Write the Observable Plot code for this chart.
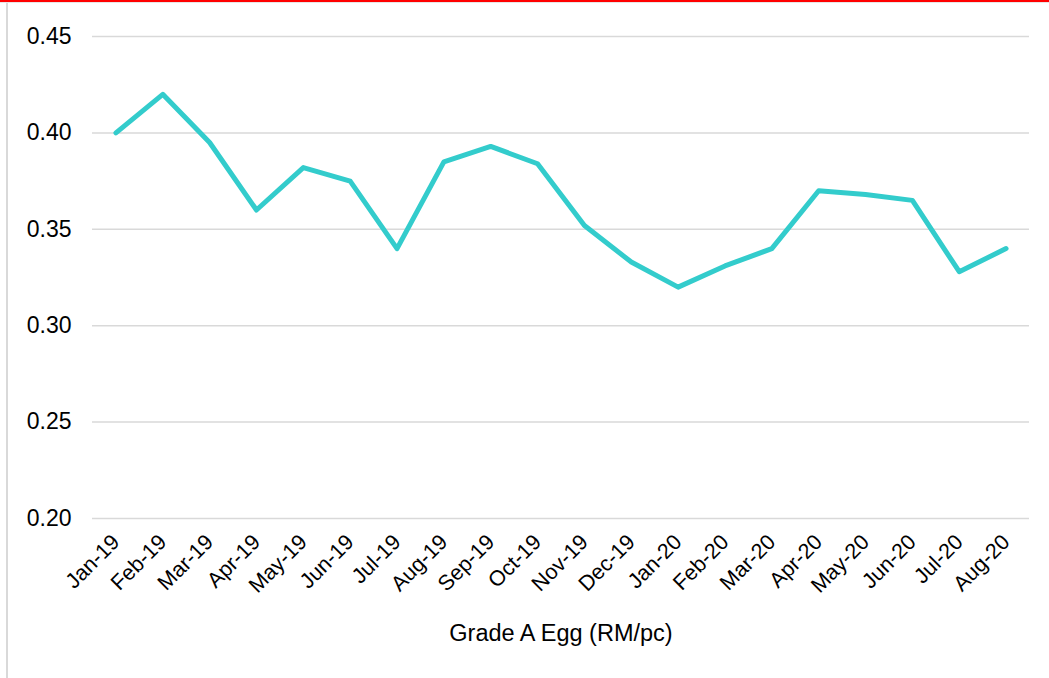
<!DOCTYPE html>
<html>
<head>
<meta charset="utf-8">
<script src="https://cdn.jsdelivr.net/npm/d3@7"></script>
<script src="https://cdn.jsdelivr.net/npm/@observablehq/plot@0.6"></script>
<style>
  html, body { margin: 0; padding: 0; background: #fff; }
  #wrap { position: relative; width: 1049px; height: 678px; overflow: hidden; font-family: "Liberation Sans", Arial, sans-serif; }
  #topred { position: absolute; left: 0; top: 0; width: 1049px; height: 2px; background: #ff0000; }
  #topgray { position: absolute; left: 0; top: 2px; width: 1049px; height: 1px; background: #e6e6e6; }
  #leftgray { position: absolute; left: 6px; top: 3px; width: 2px; height: 675px; background: #d9d9d9; }
  #chart { position: absolute; left: 0; top: 0; }
  #chart g[aria-label="y-axis tick label"] { font-size: 23px; }
  #chart g[aria-label="x-axis tick label"] { font-size: 21.5px; }
  #chart g[aria-label="x-axis label"] { font-size: 23.5px; }
</style>
</head>
<body>
<div id="wrap">
  <div id="chart"></div>
  <div id="topred"></div>
  <div id="topgray"></div>
  <div id="leftgray"></div>
</div>
<script>
const months = ["Jan-19","Feb-19","Mar-19","Apr-19","May-19","Jun-19","Jul-19","Aug-19","Sep-19","Oct-19","Nov-19","Dec-19","Jan-20","Feb-20","Mar-20","Apr-20","May-20","Jun-20","Jul-20","Aug-20"];
const prices = [0.400,0.420,0.395,0.360,0.382,0.375,0.340,0.385,0.393,0.384,0.352,0.333,0.320,0.331,0.340,0.370,0.368,0.365,0.328,0.340];
const yTicks = [0.20,0.25,0.30,0.35,0.40,0.45];
const seriesLabel = "Grade A Egg (RM/pc)";

const data = months.map((m, i) => ({month: m, price: prices[i]}));

const chart = Plot.plot({
  width: 1049,
  height: 678,
  marginLeft: 92,
  marginRight: 20,
  marginTop: 36,
  marginBottom: 160,
  style: {fontFamily: "'Liberation Sans', Arial, sans-serif", background: "transparent", color: "#000"},
  x: {type: "point", domain: months, padding: 0.5, round: false},
  y: {domain: [0.20, 0.45]},
  marks: [
    Plot.gridY(yTicks, {stroke: "#d9d9d9", strokeOpacity: 1, strokeWidth: 1.5}),
    Plot.axisY({ticks: yTicks, tickFormat: d3.format(".2f"), tickSize: 0, tickPadding: 21, label: null}),
    Plot.axisX({tickRotate: -45, tickSize: 0, tickPadding: 20, label: seriesLabel, labelAnchor: "center", labelArrow: "none", labelOffset: 122}),
    Plot.line(data, {x: "month", y: "price", stroke: "#33cccc", strokeWidth: 5, strokeLinejoin: "round", strokeLinecap: "round"})
  ]
});
document.getElementById("chart").appendChild(chart);
</script>
</body>
</html>
